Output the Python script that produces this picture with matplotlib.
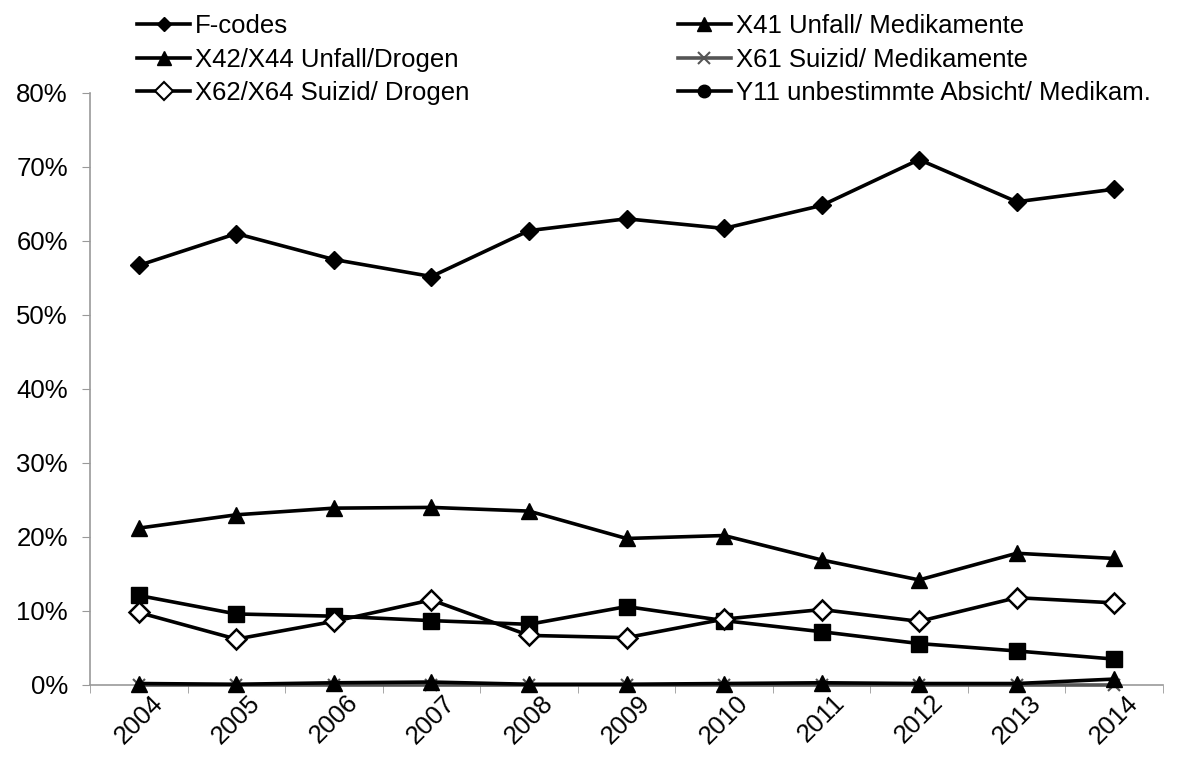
import matplotlib
matplotlib.use('Agg')
import matplotlib.pyplot as plt
import matplotlib.transforms as mtransforms
from matplotlib.lines import Line2D
from matplotlib.ticker import FuncFormatter, FixedLocator
import numpy as np

plt.rcParams['font.family'] = ['Liberation Sans', 'DejaVu Sans']

years = ['2004', '2005', '2006', '2007', '2008', '2009', '2010', '2011', '2012', '2013', '2014']

# percentages
f_codes = [56.7, 61.0, 57.5, 55.2, 61.4, 63.0, 61.7, 64.8, 71.0, 65.3, 67.0]
x42_x44 = [21.2, 23.0, 23.9, 24.0, 23.5, 19.8, 20.2, 16.9, 14.2, 17.8, 17.1]
y11 = [12.1, 9.6, 9.3, 8.7, 8.2, 10.6, 8.7, 7.2, 5.6, 4.6, 3.5]
x62_x64 = [9.8, 6.2, 8.6, 11.5, 6.7, 6.4, 8.9, 10.2, 8.6, 11.8, 11.1]
x41 = [0.2, 0.1, 0.3, 0.4, 0.1, 0.1, 0.2, 0.3, 0.2, 0.2, 0.8]
x61 = [0.0, 0.0, 0.0, 0.0, 0.0, 0.0, 0.0, 0.0, 0.0, 0.0, 0.0]

labels = ['F-codes', 'X41 Unfall/ Medikamente', 'X42/X44 Unfall/Drogen',
          'X61 Suizid/ Medikamente', 'X62/X64 Suizid/ Drogen',
          'Y11 unbestimmte Absicht/ Medikam.']

FS = 18.5

fig = plt.figure(figsize=(11.8, 7.58), dpi=100)
ax = fig.add_axes([90 / 1180, 1 - 685 / 758, (1163 - 90) / 1180, (685 - 93) / 758])

x = np.arange(len(years))
lw = 2.6
ax.plot(x, x61, color='#555555', lw=lw, marker='x', ms=9, mew=1.5, zorder=3, clip_on=False)
ax.plot(x, x41, color='black', lw=lw, marker='^', ms=12, zorder=4, clip_on=False)
ax.plot(x, y11, color='black', lw=lw, marker='s', ms=11, zorder=4)
ax.plot(x, x62_x64, color='black', lw=lw, marker='D', ms=10, mfc='white', mew=1.8, zorder=4)
ax.plot(x, x42_x44, color='black', lw=lw, marker='^', ms=11, zorder=4)
ax.plot(x, f_codes, color='black', lw=lw, marker='D', ms=9, zorder=4)

ax.set_xlim(-0.5, len(years) - 0.5)
ax.set_ylim(0, 80)
ax.set_yticks(np.arange(0, 81, 10))
ax.yaxis.set_major_formatter(FuncFormatter(lambda v, p: f'{int(v)}%'))

ax.set_xticks(x)
ax.set_xticklabels(years, rotation=45, ha='center', va='top')
shift = mtransforms.ScaledTranslation(-7 / 100, 0, fig.dpi_scale_trans)
for lab in ax.get_xticklabels():
    lab.set_transform(lab.get_transform() + shift)
ax.xaxis.set_minor_locator(FixedLocator(np.arange(-0.5, len(years), 1.0)))
ax.tick_params(axis='x', which='major', length=0, pad=4, labelsize=FS)
ax.tick_params(axis='x', which='minor', length=6, color='#999999', direction='out')
ax.tick_params(axis='y', length=6, color='#999999', labelsize=FS, pad=10)

for s in ['top', 'right']:
    ax.spines[s].set_visible(False)
for s in ['left', 'bottom']:
    ax.spines[s].set_color('#999999')
    ax.spines[s].set_linewidth(1.2)

# legend handles as they appear in the reference
handles = [
    Line2D([], [], color='black', lw=lw, marker='D', ms=7),
    Line2D([], [], color='black', lw=lw, marker='^', ms=10),
    Line2D([], [], color='black', lw=lw, marker='D', ms=9, mfc='white', mew=1.5),
    Line2D([], [], color='black', lw=lw, marker='^', ms=10),
    Line2D([], [], color='#555555', lw=lw, marker='x', ms=8, mew=1.5),
    Line2D([], [], color='black', lw=lw, marker='o', ms=9),
]
order_labels = [labels[0], labels[2], labels[4], labels[1], labels[3], labels[5]]
fig.legend(handles, order_labels, ncol=2, loc='upper left',
           bbox_to_anchor=(127 / 1180, 1 - 4 / 758), frameon=False, fontsize=FS,
           handlelength=2.06, handletextpad=0.2, labelspacing=0.36,
           columnspacing=8.1, borderaxespad=0.0)

fig.savefig('out.png', dpi=100)
